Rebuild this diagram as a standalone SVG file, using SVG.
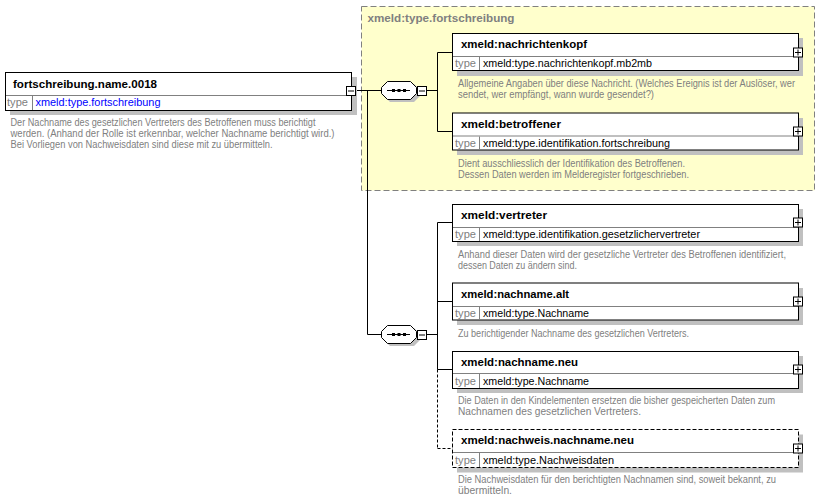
<svg xmlns="http://www.w3.org/2000/svg" width="833" height="501" viewBox="0 0 833 501">
<style>
.bg{fill:#ffffff}
.shadow{fill:#c0c0c0;stroke:none}
.box{fill:#ffffff;stroke:#000000;stroke-width:1}
.dbox{fill:#ffffff;stroke:#000000;stroke-width:1;stroke-dasharray:4,2}
.div{stroke:#808080;stroke-width:1;fill:none}
.ln{stroke:#000000;stroke-width:1;fill:none}
.dln{stroke:#000000;stroke-width:1;fill:none;stroke-dasharray:3,2}
.title{font-family:"Liberation Sans",Arial,sans-serif;font-size:11px;font-weight:bold;fill:#000000}
.tlabel{font-family:"Liberation Sans",Arial,sans-serif;font-size:11px;fill:#808080}
.tval{font-family:"Liberation Sans",Arial,sans-serif;font-size:11px;fill:#000000}
.tlink{font-family:"Liberation Sans",Arial,sans-serif;font-size:11px;fill:#0000ff}
.desc{font-family:"Liberation Sans",Arial,sans-serif;font-size:10px;fill:#808080}
.ytitle{font-family:"Liberation Sans",Arial,sans-serif;font-size:11px;font-weight:bold;fill:#808080}
.ctl{fill:#ffffff;stroke:#000000;stroke-width:1}
</style>
<defs>
<g id="plus">
<rect x="0.5" y="0.5" width="9" height="9" class="ctl"/>
<line x1="2" y1="5" x2="8" y2="5" class="ln"/>
<line x1="5" y1="2" x2="5" y2="8" class="ln"/>
</g>
<g id="minus">
<rect x="0.5" y="0.5" width="9" height="9" class="ctl"/>
<line x1="2" y1="5" x2="8" y2="5" class="ln"/>
</g>
<g id="seq">
<polygon points="9,3 33,3 39,9 39,15 33,21 9,21 3,15 3,9" class="shadow"/>
<polygon points="6.5,0.5 29.5,0.5 35.5,6.5 35.5,12.5 29.5,18.5 6.5,18.5 0.5,12.5 0.5,6.5" class="ctl"/>
<line x1="6" y1="9.5" x2="29" y2="9.5" class="ln"/>
<rect x="11" y="8" width="3" height="3" fill="#000"/>
<rect x="16.5" y="8" width="3" height="3" fill="#000"/>
<rect x="22" y="8" width="3" height="3" fill="#000"/>
</g>
</defs>
<rect x="0" y="0" width="833" height="501" class="bg"/>

<g id="complexType-fortschreibung">
<rect x="361.5" y="6.5" width="453" height="184" fill="#ffffcc" stroke="#808080" stroke-width="1" stroke-dasharray="6,3"/>
<text x="367.5" y="22" class="ytitle" textLength="147" lengthAdjust="spacingAndGlyphs">xmeld:type.fortschreibung</text>
</g>

<g id="connectors">
<line x1="356" y1="90.5" x2="381" y2="90.5" class="ln"/>
<line x1="367.5" y1="90.5" x2="367.5" y2="334.5" class="ln"/>
<line x1="367.5" y1="334.5" x2="381" y2="334.5" class="ln"/>
<line x1="427" y1="90.5" x2="437.5" y2="90.5" class="ln"/>
<line x1="437.5" y1="52.5" x2="437.5" y2="131.5" class="ln"/>
<line x1="437.5" y1="52.5" x2="453" y2="52.5" class="ln"/>
<line x1="437.5" y1="131.5" x2="453" y2="131.5" class="ln"/>
<line x1="427" y1="334.5" x2="437.5" y2="334.5" class="ln"/>
<line x1="437.5" y1="222.5" x2="437.5" y2="369.5" class="ln"/>
<line x1="437.5" y1="222.5" x2="453" y2="222.5" class="ln"/>
<line x1="437.5" y1="301.5" x2="453" y2="301.5" class="ln"/>
<line x1="437.5" y1="369.5" x2="453" y2="369.5" class="ln"/>
<line x1="437.5" y1="369.5" x2="437.5" y2="448.5" class="dln"/>
<line x1="437.5" y1="448.5" x2="453" y2="448.5" class="dln"/>
</g>

<g id="root-fortschreibung.name.0018">
<rect x="10" y="77" width="347" height="38" class="shadow"/>
<rect x="5.5" y="72.5" width="346" height="38" class="box"/>
<line x1="6" y1="95.5" x2="351" y2="95.5" class="div"/>
<line x1="32.5" y1="96" x2="32.5" y2="110" class="div"/>
<text x="13" y="88" class="title" textLength="144" lengthAdjust="spacingAndGlyphs">fortschreibung.name.0018</text>
<text x="7" y="106" class="tlabel" textLength="21" lengthAdjust="spacingAndGlyphs">type</text>
<text x="35.5" y="106" class="tlink" textLength="125" lengthAdjust="spacingAndGlyphs">xmeld:type.fortschreibung</text>
<use href="#minus" x="346" y="86"/>
<text x="10.5" y="126" class="desc" textLength="305" lengthAdjust="spacingAndGlyphs">Der Nachname des gesetzlichen Vertreters des Betroffenen muss berichtigt</text>
<text x="10.5" y="137" class="desc" textLength="324" lengthAdjust="spacingAndGlyphs">werden. (Anhand der Rolle ist erkennbar, welcher Nachname berichtigt wird.)</text>
<text x="10.5" y="148" class="desc" textLength="262" lengthAdjust="spacingAndGlyphs">Bei Vorliegen von Nachweisdaten sind diese mit zu übermitteln.</text>
</g>

<g id="sequence-1">
<use href="#seq" x="381" y="81"/>
<use href="#minus" x="417" y="86"/>
</g>

<g id="sequence-2">
<use href="#seq" x="381" y="325"/>
<use href="#minus" x="417" y="330"/>
</g>

<g id="node-nachrichtenkopf">
<rect x="457" y="38" width="346" height="38" class="shadow"/>
<rect x="452.5" y="33.5" width="346" height="37" class="box"/>
<line x1="453" y1="56.5" x2="798" y2="56.5" class="div"/>
<line x1="479.5" y1="57" x2="479.5" y2="70" class="div"/>
<text x="461" y="48" class="title" textLength="126" lengthAdjust="spacingAndGlyphs">xmeld:nachrichtenkopf</text>
<text x="455" y="67" class="tlabel" textLength="21" lengthAdjust="spacingAndGlyphs">type</text>
<text x="483" y="67" class="tval" textLength="169" lengthAdjust="spacingAndGlyphs">xmeld:type.nachrichtenkopf.mb2mb</text>
<use href="#plus" x="793" y="47.5"/>
<text x="458" y="87" class="desc" textLength="337" lengthAdjust="spacingAndGlyphs">Allgemeine Angaben über diese Nachricht. (Welches Ereignis ist der Auslöser, wer</text>
<text x="458" y="98" class="desc" textLength="196" lengthAdjust="spacingAndGlyphs">sendet, wer empfängt, wann wurde gesendet?)</text>
</g>

<g id="node-betroffener">
<rect x="457" y="118" width="346" height="37" class="shadow"/>
<rect x="452.5" y="113" width="346" height="37" class="box"/>
<line x1="453" y1="136" x2="798" y2="136" class="div"/>
<line x1="479.5" y1="136.5" x2="479.5" y2="149.5" class="div"/>
<text x="461" y="128" class="title" textLength="100" lengthAdjust="spacingAndGlyphs">xmeld:betroffener</text>
<text x="455" y="147" class="tlabel" textLength="21" lengthAdjust="spacingAndGlyphs">type</text>
<text x="483" y="147" class="tval" textLength="187" lengthAdjust="spacingAndGlyphs">xmeld:type.identifikation.fortschreibung</text>
<use href="#plus" x="793" y="126.5"/>
<text x="458" y="167" class="desc" textLength="227" lengthAdjust="spacingAndGlyphs">Dient ausschliesslich der Identifikation des Betroffenen.</text>
<text x="458" y="177.5" class="desc" textLength="231" lengthAdjust="spacingAndGlyphs">Dessen Daten werden im Melderegister fortgeschrieben.</text>
</g>

<g id="node-vertreter">
<rect x="457" y="209" width="346" height="37" class="shadow"/>
<rect x="452.5" y="204.5" width="346" height="37" class="box"/>
<line x1="453" y1="227.5" x2="798" y2="227.5" class="div"/>
<line x1="479.5" y1="228" x2="479.5" y2="241" class="div"/>
<text x="461" y="219" class="title" textLength="86" lengthAdjust="spacingAndGlyphs">xmeld:vertreter</text>
<text x="455" y="238" class="tlabel" textLength="21" lengthAdjust="spacingAndGlyphs">type</text>
<text x="483" y="238" class="tval" textLength="217" lengthAdjust="spacingAndGlyphs">xmeld:type.identifikation.gesetzlichervertreter</text>
<use href="#plus" x="793" y="217.5"/>
<text x="458" y="258" class="desc" textLength="328" lengthAdjust="spacingAndGlyphs">Anhand dieser Daten wird der gesetzliche Vertreter des Betroffenen identifiziert,</text>
<text x="458" y="269" class="desc" textLength="119" lengthAdjust="spacingAndGlyphs">dessen Daten zu ändern sind.</text>
</g>

<g id="node-nachname.alt">
<rect x="457" y="288" width="346" height="37" class="shadow"/>
<rect x="452.5" y="283" width="346" height="37" class="box"/>
<line x1="453" y1="306.5" x2="798" y2="306.5" class="div"/>
<line x1="479.5" y1="307" x2="479.5" y2="319.5" class="div"/>
<text x="461" y="298" class="title" textLength="108" lengthAdjust="spacingAndGlyphs">xmeld:nachname.alt</text>
<text x="455" y="317" class="tlabel" textLength="21" lengthAdjust="spacingAndGlyphs">type</text>
<text x="483" y="317" class="tval" textLength="106" lengthAdjust="spacingAndGlyphs">xmeld:type.Nachname</text>
<use href="#plus" x="793" y="296.5"/>
<text x="458" y="336.5" class="desc" textLength="231" lengthAdjust="spacingAndGlyphs">Zu berichtigender Nachname des gesetzlichen Vertreters.</text>
</g>

<g id="node-nachname.neu">
<rect x="457" y="356" width="346" height="37" class="shadow"/>
<rect x="452.5" y="351.5" width="346" height="37" class="box"/>
<line x1="453" y1="373.5" x2="798" y2="373.5" class="div"/>
<line x1="479.5" y1="374" x2="479.5" y2="388" class="div"/>
<text x="461" y="366" class="title" textLength="117" lengthAdjust="spacingAndGlyphs">xmeld:nachname.neu</text>
<text x="455" y="385" class="tlabel" textLength="21" lengthAdjust="spacingAndGlyphs">type</text>
<text x="483" y="385" class="tval" textLength="106" lengthAdjust="spacingAndGlyphs">xmeld:type.Nachname</text>
<use href="#plus" x="793" y="364.5"/>
<text x="458" y="404" class="desc" textLength="317" lengthAdjust="spacingAndGlyphs">Die Daten in den Kindelementen ersetzen die bisher gespeicherten Daten zum</text>
<text x="458" y="415" class="desc" textLength="183" lengthAdjust="spacingAndGlyphs">Nachnamen des gesetzlichen Vertreters.</text>
</g>

<g id="node-nachweis.nachname.neu">
<rect x="457" y="434.5" width="346" height="38" class="shadow"/>
<rect x="452.5" y="429.5" width="346" height="38" class="dbox"/>
<line x1="453" y1="452.5" x2="798" y2="452.5" class="div"/>
<line x1="479.5" y1="453" x2="479.5" y2="467" class="div"/>
<text x="461" y="444" class="title" textLength="173" lengthAdjust="spacingAndGlyphs">xmeld:nachweis.nachname.neu</text>
<text x="455" y="463.5" class="tlabel" textLength="21" lengthAdjust="spacingAndGlyphs">type</text>
<text x="483" y="463.5" class="tval" textLength="131" lengthAdjust="spacingAndGlyphs">xmeld:type.Nachweisdaten</text>
<use href="#plus" x="793" y="443.5"/>
<text x="458" y="483" class="desc" textLength="318" lengthAdjust="spacingAndGlyphs">Die Nachweisdaten für den berichtigten Nachnamen sind, soweit bekannt, zu</text>
<text x="458" y="494" class="desc" textLength="54" lengthAdjust="spacingAndGlyphs">übermitteln.</text>
</g>
</svg>
